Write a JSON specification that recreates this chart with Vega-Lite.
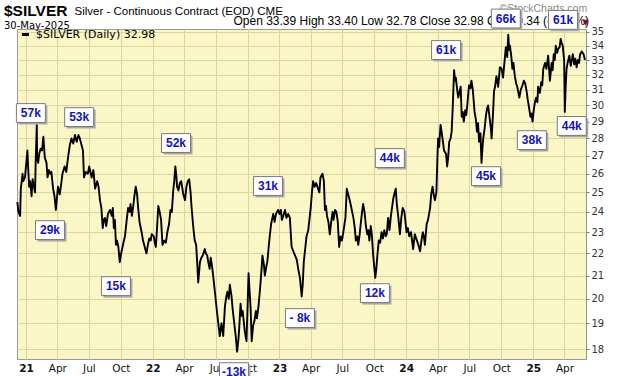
{
"$schema": "https://vega.github.io/schema/vega-lite/v6.json",
"width": 569, "height": 330,
"autosize": {"type": "none"},
"padding": {"left": 17, "top": 29, "right": 34, "bottom": 17},
"background": "white",
"config": {
  "view": {"fill": "#faf6c6", "stroke": "#9a9a9a", "strokeWidth": 1},
  "axis": {"labelFont": "DejaVu Sans", "labelFontSize": 10, "labelColor": "#222", "gridColor": "#dbd5a2", "gridOpacity": 1, "gridWidth": 1, "tickColor": "#777", "domain": false}
},
"title": {"text": "$SILVER", "subtitle": "30-May-2025", "anchor": "start", "frame": "group", "offset": 3, "dy": 31, "font": "Liberation Sans", "fontSize": 15.5, "fontWeight": "bold", "color": "black", "subtitleFont": "DejaVu Sans", "subtitleFontSize": 10, "subtitleColor": "black", "subtitlePadding": 2, "dx": -13},
"datasets": {
"price": [
{"date":"2020-12-07","close":24.5},{"date":"2020-12-10","close":24.0},{"date":"2020-12-15","close":23.8},{"date":"2020-12-17","close":25.2},{"date":"2020-12-22","close":26.0},{"date":"2020-12-24","close":25.6},{"date":"2020-12-29","close":25.8},
{"date":"2021-01-05","close":27.3},{"date":"2021-01-07","close":26.4},{"date":"2021-01-10","close":25.3},{"date":"2021-01-13","close":25.6},{"date":"2021-01-17","close":24.8},{"date":"2021-01-20","close":25.7},{"date":"2021-01-22","close":25.5},{"date":"2021-01-27","close":25.0},{"date":"2021-01-29","close":26.8},
{"date":"2021-02-01","close":28.8},{"date":"2021-02-02","close":26.9},{"date":"2021-02-05","close":26.6},{"date":"2021-02-08","close":27.1},{"date":"2021-02-12","close":27.4},{"date":"2021-02-16","close":27.3},{"date":"2021-02-20","close":28.1},{"date":"2021-02-24","close":26.9},
{"date":"2021-03-01","close":26.6},{"date":"2021-03-04","close":25.8},{"date":"2021-03-08","close":26.2},{"date":"2021-03-12","close":26.0},{"date":"2021-03-15","close":26.1},{"date":"2021-03-20","close":25.2},{"date":"2021-03-24","close":24.8},{"date":"2021-03-28","close":24.1},
{"date":"2021-04-03","close":25.3},{"date":"2021-04-08","close":24.9},{"date":"2021-04-12","close":25.4},{"date":"2021-04-16","close":26.0},{"date":"2021-04-22","close":26.4},{"date":"2021-04-27","close":26.1},
{"date":"2021-05-02","close":26.9},{"date":"2021-05-07","close":27.6},{"date":"2021-05-12","close":28.0},{"date":"2021-05-17","close":27.7},{"date":"2021-05-22","close":28.2},{"date":"2021-05-27","close":27.8},
{"date":"2021-06-01","close":28.2},{"date":"2021-06-05","close":28.0},{"date":"2021-06-10","close":27.6},{"date":"2021-06-14","close":27.3},{"date":"2021-06-17","close":25.8},{"date":"2021-06-22","close":26.1},{"date":"2021-06-28","close":26.0},
{"date":"2021-07-02","close":26.4},{"date":"2021-07-09","close":25.8},{"date":"2021-07-14","close":26.2},{"date":"2021-07-19","close":25.2},{"date":"2021-07-25","close":25.6},{"date":"2021-07-29","close":25.3},
{"date":"2021-08-02","close":24.6},{"date":"2021-08-06","close":24.2},{"date":"2021-08-10","close":23.2},{"date":"2021-08-13","close":23.6},{"date":"2021-08-16","close":23.7},{"date":"2021-08-20","close":23.3},{"date":"2021-08-25","close":23.9},{"date":"2021-08-31","close":24.1},
{"date":"2021-09-05","close":23.8},{"date":"2021-09-08","close":24.2},{"date":"2021-09-11","close":23.2},{"date":"2021-09-14","close":23.6},{"date":"2021-09-17","close":22.4},{"date":"2021-09-20","close":22.6},{"date":"2021-09-24","close":22.3},{"date":"2021-09-28","close":21.6},
{"date":"2021-10-02","close":22.0},{"date":"2021-10-06","close":22.3},{"date":"2021-10-10","close":22.6},{"date":"2021-10-13","close":22.8},{"date":"2021-10-18","close":23.6},{"date":"2021-10-22","close":24.2},{"date":"2021-10-26","close":24.0},{"date":"2021-10-29","close":24.4},
{"date":"2021-11-02","close":23.8},{"date":"2021-11-06","close":24.3},{"date":"2021-11-09","close":24.8},{"date":"2021-11-13","close":25.3},{"date":"2021-11-17","close":24.9},{"date":"2021-11-20","close":24.2},{"date":"2021-11-24","close":23.5},{"date":"2021-11-30","close":23.0},
{"date":"2021-12-04","close":22.6},{"date":"2021-12-09","close":22.3},{"date":"2021-12-14","close":22.0},{"date":"2021-12-18","close":22.4},{"date":"2021-12-22","close":22.7},{"date":"2021-12-26","close":22.6},{"date":"2021-12-29","close":22.9},
{"date":"2022-01-04","close":22.8},{"date":"2022-01-07","close":22.5},{"date":"2022-01-10","close":22.3},{"date":"2022-01-13","close":23.1},{"date":"2022-01-17","close":24.3},{"date":"2022-01-21","close":24.0},{"date":"2022-01-25","close":23.6},{"date":"2022-01-29","close":22.4},
{"date":"2022-02-03","close":22.6},{"date":"2022-02-08","close":22.5},{"date":"2022-02-12","close":23.0},{"date":"2022-02-17","close":23.4},{"date":"2022-02-21","close":24.1},{"date":"2022-02-25","close":24.0},
{"date":"2022-03-01","close":25.1},{"date":"2022-03-04","close":25.6},{"date":"2022-03-07","close":26.4},{"date":"2022-03-10","close":25.9},{"date":"2022-03-12","close":25.3},{"date":"2022-03-16","close":25.1},{"date":"2022-03-20","close":25.5},{"date":"2022-03-24","close":25.6},{"date":"2022-03-30","close":24.9},
{"date":"2022-04-04","close":24.6},{"date":"2022-04-08","close":25.3},{"date":"2022-04-12","close":25.6},{"date":"2022-04-16","close":25.7},{"date":"2022-04-20","close":25.0},{"date":"2022-04-23","close":24.2},{"date":"2022-04-28","close":23.2},
{"date":"2022-05-02","close":22.6},{"date":"2022-05-06","close":22.4},{"date":"2022-05-09","close":21.6},{"date":"2022-05-12","close":20.7},{"date":"2022-05-17","close":21.6},{"date":"2022-05-21","close":21.8},{"date":"2022-05-25","close":21.9},{"date":"2022-05-31","close":22.2},
{"date":"2022-06-03","close":22.0},{"date":"2022-06-07","close":21.9},{"date":"2022-06-10","close":21.6},{"date":"2022-06-14","close":21.3},{"date":"2022-06-17","close":21.8},{"date":"2022-06-21","close":21.4},{"date":"2022-06-24","close":21.0},{"date":"2022-06-29","close":20.3},
{"date":"2022-07-04","close":19.6},{"date":"2022-07-08","close":19.1},{"date":"2022-07-13","close":18.5},{"date":"2022-07-18","close":19.0},{"date":"2022-07-23","close":18.5},{"date":"2022-07-28","close":19.7},
{"date":"2022-08-01","close":20.1},{"date":"2022-08-04","close":20.3},{"date":"2022-08-08","close":20.0},{"date":"2022-08-11","close":20.6},{"date":"2022-08-16","close":20.1},{"date":"2022-08-19","close":19.6},{"date":"2022-08-23","close":19.1},{"date":"2022-08-28","close":18.5},
{"date":"2022-09-01","close":17.9},{"date":"2022-09-05","close":18.4},{"date":"2022-09-07","close":18.8},{"date":"2022-09-11","close":19.8},{"date":"2022-09-14","close":19.3},{"date":"2022-09-17","close":19.5},{"date":"2022-09-20","close":19.1},{"date":"2022-09-23","close":18.7},{"date":"2022-09-28","close":18.3},
{"date":"2022-10-01","close":19.6},{"date":"2022-10-04","close":21.1},{"date":"2022-10-07","close":20.3},{"date":"2022-10-10","close":19.6},{"date":"2022-10-13","close":18.3},{"date":"2022-10-17","close":18.9},{"date":"2022-10-21","close":19.1},{"date":"2022-10-25","close":19.5},{"date":"2022-10-28","close":19.2},
{"date":"2022-11-01","close":19.6},{"date":"2022-11-06","close":20.4},{"date":"2022-11-10","close":21.2},{"date":"2022-11-13","close":21.9},{"date":"2022-11-17","close":21.5},{"date":"2022-11-20","close":21.0},{"date":"2022-11-24","close":21.4},{"date":"2022-11-27","close":21.6},
{"date":"2022-12-01","close":22.3},{"date":"2022-12-04","close":22.8},{"date":"2022-12-08","close":23.4},{"date":"2022-12-14","close":23.9},{"date":"2022-12-18","close":23.5},{"date":"2022-12-22","close":23.9},{"date":"2022-12-28","close":24.1},
{"date":"2023-01-01","close":23.9},{"date":"2023-01-05","close":24.1},{"date":"2023-01-08","close":23.6},{"date":"2023-01-12","close":23.8},{"date":"2023-01-17","close":24.1},{"date":"2023-01-21","close":23.7},{"date":"2023-01-26","close":23.9},{"date":"2023-01-31","close":23.7},
{"date":"2023-02-05","close":22.3},{"date":"2023-02-10","close":22.1},{"date":"2023-02-15","close":21.9},{"date":"2023-02-20","close":21.7},{"date":"2023-02-24","close":21.3},
{"date":"2023-03-01","close":20.9},{"date":"2023-03-06","close":20.1},{"date":"2023-03-09","close":20.6},{"date":"2023-03-12","close":21.6},{"date":"2023-03-16","close":22.2},{"date":"2023-03-20","close":22.8},{"date":"2023-03-25","close":23.1},
{"date":"2023-04-01","close":24.2},{"date":"2023-04-05","close":25.1},{"date":"2023-04-08","close":25.6},{"date":"2023-04-12","close":25.3},{"date":"2023-04-17","close":25.5},{"date":"2023-04-22","close":25.2},{"date":"2023-04-26","close":25.0},{"date":"2023-04-29","close":25.8},
{"date":"2023-05-05","close":26.0},{"date":"2023-05-09","close":25.6},{"date":"2023-05-12","close":24.1},{"date":"2023-05-15","close":24.3},{"date":"2023-05-18","close":23.8},{"date":"2023-05-22","close":23.5},{"date":"2023-05-26","close":22.9},{"date":"2023-05-30","close":23.5},
{"date":"2023-06-03","close":24.0},{"date":"2023-06-06","close":23.6},{"date":"2023-06-10","close":24.1},{"date":"2023-06-14","close":24.0},{"date":"2023-06-18","close":23.5},{"date":"2023-06-22","close":22.3},{"date":"2023-06-26","close":22.8},{"date":"2023-06-30","close":22.6},
{"date":"2023-07-04","close":23.0},{"date":"2023-07-10","close":23.7},{"date":"2023-07-14","close":25.2},{"date":"2023-07-18","close":24.9},{"date":"2023-07-21","close":24.7},{"date":"2023-07-26","close":24.3},
{"date":"2023-08-02","close":23.7},{"date":"2023-08-06","close":23.2},{"date":"2023-08-09","close":22.6},{"date":"2023-08-13","close":22.8},{"date":"2023-08-16","close":22.4},{"date":"2023-08-20","close":22.9},{"date":"2023-08-23","close":23.4},{"date":"2023-08-27","close":24.0},{"date":"2023-08-30","close":24.4},
{"date":"2023-09-03","close":24.0},{"date":"2023-09-07","close":23.3},{"date":"2023-09-11","close":22.9},{"date":"2023-09-14","close":23.1},{"date":"2023-09-17","close":22.6},{"date":"2023-09-21","close":23.3},{"date":"2023-09-24","close":22.9},{"date":"2023-09-28","close":21.9},
{"date":"2023-10-01","close":21.4},{"date":"2023-10-04","close":20.9},{"date":"2023-10-07","close":21.3},{"date":"2023-10-10","close":21.9},{"date":"2023-10-14","close":22.6},{"date":"2023-10-18","close":22.5},{"date":"2023-10-22","close":23.0},{"date":"2023-10-26","close":22.7},{"date":"2023-10-30","close":23.1},
{"date":"2023-11-03","close":22.8},{"date":"2023-11-06","close":22.9},{"date":"2023-11-10","close":23.7},{"date":"2023-11-14","close":23.1},{"date":"2023-11-18","close":23.8},{"date":"2023-11-22","close":24.3},{"date":"2023-11-25","close":24.7},{"date":"2023-11-29","close":25.0},
{"date":"2023-12-02","close":25.2},{"date":"2023-12-05","close":24.4},{"date":"2023-12-09","close":23.8},{"date":"2023-12-14","close":22.9},{"date":"2023-12-18","close":23.7},{"date":"2023-12-22","close":24.2},{"date":"2023-12-27","close":24.0},
{"date":"2024-01-02","close":23.0},{"date":"2024-01-06","close":23.2},{"date":"2024-01-10","close":22.8},{"date":"2024-01-15","close":23.0},{"date":"2024-01-21","close":22.2},{"date":"2024-01-26","close":22.9},{"date":"2024-01-30","close":22.7},
{"date":"2024-02-05","close":22.4},{"date":"2024-02-10","close":22.1},{"date":"2024-02-14","close":22.6},{"date":"2024-02-18","close":23.0},{"date":"2024-02-21","close":22.8},{"date":"2024-02-24","close":22.4},{"date":"2024-02-29","close":23.4},
{"date":"2024-03-04","close":23.6},{"date":"2024-03-10","close":24.2},{"date":"2024-03-13","close":24.9},{"date":"2024-03-17","close":25.3},{"date":"2024-03-21","close":24.8},{"date":"2024-03-24","close":24.6},{"date":"2024-03-28","close":25.0},{"date":"2024-03-31","close":26.9},
{"date":"2024-04-02","close":28.0},{"date":"2024-04-05","close":27.5},{"date":"2024-04-09","close":28.8},{"date":"2024-04-12","close":28.4},{"date":"2024-04-16","close":27.8},{"date":"2024-04-19","close":27.3},{"date":"2024-04-25","close":27.1},{"date":"2024-04-28","close":26.4},
{"date":"2024-05-01","close":26.9},{"date":"2024-05-04","close":27.8},{"date":"2024-05-08","close":28.0},{"date":"2024-05-11","close":28.4},{"date":"2024-05-14","close":29.8},{"date":"2024-05-18","close":32.3},{"date":"2024-05-21","close":31.6},{"date":"2024-05-23","close":31.8},{"date":"2024-05-27","close":31.0},{"date":"2024-05-30","close":30.5},
{"date":"2024-06-03","close":30.9},{"date":"2024-06-06","close":31.2},{"date":"2024-06-09","close":29.3},{"date":"2024-06-12","close":29.6},{"date":"2024-06-15","close":29.0},{"date":"2024-06-19","close":29.7},{"date":"2024-06-22","close":29.4},{"date":"2024-06-25","close":30.0},{"date":"2024-06-30","close":31.3},
{"date":"2024-07-04","close":31.1},{"date":"2024-07-07","close":31.6},{"date":"2024-07-11","close":31.0},{"date":"2024-07-16","close":29.6},{"date":"2024-07-20","close":29.1},{"date":"2024-07-23","close":28.4},{"date":"2024-07-26","close":28.9},{"date":"2024-07-29","close":27.8},
{"date":"2024-08-02","close":28.3},{"date":"2024-08-05","close":26.6},{"date":"2024-08-08","close":27.5},{"date":"2024-08-10","close":28.0},{"date":"2024-08-14","close":28.6},{"date":"2024-08-18","close":29.4},{"date":"2024-08-21","close":29.8},{"date":"2024-08-24","close":30.0},{"date":"2024-08-28","close":29.3},
{"date":"2024-09-01","close":28.6},{"date":"2024-09-03","close":28.0},{"date":"2024-09-07","close":29.4},{"date":"2024-09-10","close":30.9},{"date":"2024-09-13","close":31.2},{"date":"2024-09-17","close":31.9},{"date":"2024-09-22","close":31.2},{"date":"2024-09-27","close":32.5},
{"date":"2024-10-02","close":32.4},{"date":"2024-10-06","close":31.8},{"date":"2024-10-10","close":32.8},{"date":"2024-10-14","close":33.9},{"date":"2024-10-18","close":33.2},{"date":"2024-10-21","close":34.8},{"date":"2024-10-24","close":33.7},{"date":"2024-10-26","close":34.0},{"date":"2024-10-30","close":33.2},
{"date":"2024-11-02","close":32.4},{"date":"2024-11-05","close":32.8},{"date":"2024-11-09","close":31.9},{"date":"2024-11-13","close":31.4},{"date":"2024-11-16","close":31.2},{"date":"2024-11-22","close":30.5},{"date":"2024-11-26","close":31.0},
{"date":"2024-12-01","close":31.3},{"date":"2024-12-05","close":31.6},{"date":"2024-12-09","close":31.4},{"date":"2024-12-13","close":30.9},{"date":"2024-12-16","close":30.4},{"date":"2024-12-19","close":30.0},{"date":"2024-12-24","close":29.3},{"date":"2024-12-27","close":29.5},{"date":"2024-12-30","close":29.0},
{"date":"2025-01-03","close":29.8},{"date":"2025-01-06","close":30.2},{"date":"2025-01-09","close":30.5},{"date":"2025-01-13","close":30.2},{"date":"2025-01-15","close":31.2},{"date":"2025-01-20","close":30.8},{"date":"2025-01-24","close":31.5},{"date":"2025-01-27","close":31.3},{"date":"2025-01-30","close":32.4},
{"date":"2025-02-04","close":32.8},{"date":"2025-02-08","close":32.4},{"date":"2025-02-13","close":33.3},{"date":"2025-02-18","close":31.6},{"date":"2025-02-23","close":32.8},{"date":"2025-02-26","close":32.3},
{"date":"2025-03-01","close":33.4},{"date":"2025-03-04","close":33.0},{"date":"2025-03-07","close":34.0},{"date":"2025-03-11","close":33.5},{"date":"2025-03-14","close":33.8},{"date":"2025-03-18","close":33.9},{"date":"2025-03-21","close":34.5},{"date":"2025-03-24","close":34.2},{"date":"2025-03-27","close":34.0},{"date":"2025-03-31","close":33.0},
{"date":"2025-04-02","close":29.6},{"date":"2025-04-04","close":31.0},{"date":"2025-04-07","close":32.4},{"date":"2025-04-10","close":32.8},{"date":"2025-04-15","close":33.3},{"date":"2025-04-19","close":32.6},{"date":"2025-04-22","close":33.0},{"date":"2025-04-25","close":33.4},{"date":"2025-04-29","close":32.7},
{"date":"2025-05-02","close":33.1},{"date":"2025-05-06","close":32.5},{"date":"2025-05-09","close":33.0},{"date":"2025-05-13","close":32.8},{"date":"2025-05-16","close":33.4},{"date":"2025-05-21","close":33.6},{"date":"2025-05-26","close":33.4},{"date":"2025-05-30","close":33.0}
],
"notes": [
{"date":"2021-01-15","pos":29.53,"label":"57k"},
{"date":"2021-06-03","pos":29.28,"label":"53k"},
{"date":"2021-03-11","pos":23.1,"label":"29k"},
{"date":"2021-09-17","pos":20.54,"label":"15k"},
{"date":"2022-03-09","pos":27.73,"label":"52k"},
{"date":"2022-11-29","pos":25.34,"label":"31k"},
{"date":"2023-03-01","pos":19.21,"label":"- 8k"},
{"date":"2022-08-23","pos":17.15,"label":"-13k"},
{"date":"2023-10-03","pos":20.24,"label":"12k"},
{"date":"2023-11-15","pos":26.87,"label":"44k"},
{"date":"2024-04-25","pos":33.7,"label":"61k"},
{"date":"2024-08-18","pos":25.87,"label":"45k"},
{"date":"2024-12-28","pos":27.9,"label":"38k"},
{"date":"2025-04-22","pos":28.74,"label":"44k"},
{"date":"2024-10-14","pos":36.0,"label":"66k"},
{"date":"2025-03-28","pos":35.9,"label":"61k"}
]
},
"layer": [
{
  "data": {"name": "price"},
  "mark": {"type": "line", "strokeWidth": 1.9, "strokeJoin": "round"},
  "encoding": {
    "x": {"field": "date", "type": "temporal",
      "scale": {"domain": [{"year": 2020, "month": 12, "date": 6}, {"year": 2025, "month": 6, "date": 2}]},
      "axis": {"orient": "bottom",
        "values": [{"year":2021,"month":1,"date":1},{"year":2021,"month":4,"date":1},{"year":2021,"month":7,"date":1},{"year":2021,"month":10,"date":1},{"year":2022,"month":1,"date":1},{"year":2022,"month":4,"date":1},{"year":2022,"month":7,"date":1},{"year":2022,"month":10,"date":1},{"year":2023,"month":1,"date":1},{"year":2023,"month":4,"date":1},{"year":2023,"month":7,"date":1},{"year":2023,"month":10,"date":1},{"year":2024,"month":1,"date":1},{"year":2024,"month":4,"date":1},{"year":2024,"month":7,"date":1},{"year":2024,"month":10,"date":1},{"year":2025,"month":1,"date":1},{"year":2025,"month":4,"date":1}],
        "labelExpr": "month(datum.value) == 0 ? timeFormat(datum.value, '%y') : timeFormat(datum.value, '%b')",
        "labelFontWeight": {"condition": {"test": "month(datum.value) == 0", "value": "bold"}, "value": "normal"},
        "labelFontSize": 10.5, "labelColor": "#111", "ticks": false, "labelPadding": 4, "grid": true, "domain": false,
        "labelFlush": false, "labelOverlap": false,
        "title": "Silver - Continuous Contract (EOD) CME", "titleX": 57, "titleY": -345, "titleAlign": "left", "titleBaseline": "alphabetic",
        "titleFont": "Liberation Sans", "titleFontSize": 11.5, "titleFontWeight": "normal", "titleColor": "black"}},
    "y": {"field": "close", "type": "quantitative",
      "scale": {"type": "log", "domain": [17.63, 35.22], "nice": false, "zero": false},
      "axis": {"orient": "right", "values": [18,19,20,21,22,23,24,25,26,27,28,29,30,31,32,33,34,35], "format": "d",
        "grid": true, "ticks": true, "tickSize": 3, "labelPadding": 2, "labelFontSize": 10, "labelColor": "#333",
        "domain": true, "domainDash": [1, 1], "domainColor": "#888", "labelOverlap": false,
        "title": "Open 33.39 High 33.40 Low 32.78 Close 32.98 Chg -0.34 (-1.02%)", "titleAngle": 0, "titleX": -353, "titleY": -5,
        "titleAlign": "left", "titleBaseline": "alphabetic", "titleFont": "Liberation Sans", "titleFontSize": 12, "titleFontWeight": "normal", "titleColor": "black"}},
    "color": {"datum": "$SILVER (Daily) 32.98", "type": "nominal", "scale": {"range": ["black"]},
      "legend": {"orient": "none", "legendX": 3, "legendY": 0, "title": null, "padding": 0, "symbolType": "stroke", "symbolStrokeWidth": 3, "symbolSize": 50,
        "labelFont": "DejaVu Sans", "labelFontSize": 11, "labelColor": "black", "labelOffset": 5}}
  }
},
{
  "data": {"name": "notes"},
  "mark": {"type": "point", "shape": "M-1,-0.65H1V0.65H-1Z", "size": 841, "filled": true, "fill": "#a8a8a8", "opacity": 1, "strokeWidth": 0, "xOffset": 2, "yOffset": 2},
  "encoding": {
    "x": {"field": "date", "type": "temporal",
      "scale": {"domain": [{"year": 2020, "month": 12, "date": 6}, {"year": 2025, "month": 6, "date": 2}]},
      "axis": {"orient": "top", "labels": false, "ticks": false, "grid": false, "domain": false,
        "title": "©StockCharts.com", "titleX": 482, "titleY": -18, "titleAlign": "left", "titleBaseline": "alphabetic",
        "titleFont": "Liberation Sans", "titleFontSize": 10.5, "titleFontWeight": "normal", "titleColor": "#8a8a8a"}},
    "y": {"field": "pos", "type": "quantitative",
      "scale": {"type": "log", "domain": [17.63, 35.22], "nice": false, "zero": false},
      "axis": {"orient": "left", "labels": false, "ticks": false, "grid": false, "domain": false,
        "title": "▼", "titleAngle": 0, "titleX": 568, "titleY": -7, "titleAlign": "center", "titleBaseline": "middle",
        "titleFont": "DejaVu Sans", "titleFontSize": 8, "titleFontWeight": "normal", "titleColor": "#7a1030"}}
  }
},
{
  "data": {"name": "notes"},
  "mark": {"type": "point", "shape": "M-1,-0.65H1V0.65H-1Z", "size": 841, "filled": true, "fill": "white", "opacity": 1, "stroke": "#7a7a7a", "strokeWidth": 1},
  "encoding": {
    "x": {"field": "date", "type": "temporal", "scale": {"domain": [{"year": 2020, "month": 12, "date": 6}, {"year": 2025, "month": 6, "date": 2}]}, "axis": null},
    "y": {"field": "pos", "type": "quantitative", "scale": {"type": "log", "domain": [17.63, 35.22], "nice": false, "zero": false}, "axis": null}
  }
},
{
  "data": {"name": "notes"},
  "mark": {"type": "text", "font": "Liberation Sans", "fontSize": 12, "fontWeight": "bold", "color": "#1414b8", "align": "center", "baseline": "middle"},
  "encoding": {
    "x": {"field": "date", "type": "temporal", "scale": {"domain": [{"year": 2020, "month": 12, "date": 6}, {"year": 2025, "month": 6, "date": 2}]}, "axis": null},
    "y": {"field": "pos", "type": "quantitative", "scale": {"type": "log", "domain": [17.63, 35.22], "nice": false, "zero": false}, "axis": null},
    "text": {"field": "label"}
  }
}
],
"resolve": {"axis": {"x": "independent", "y": "independent"}}
}
